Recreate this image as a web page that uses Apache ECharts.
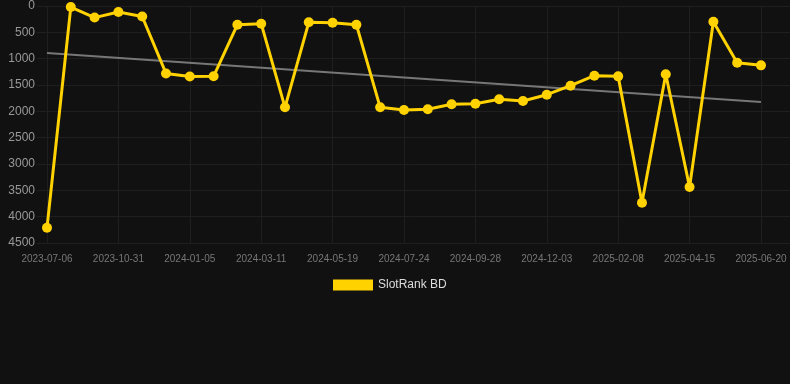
<!DOCTYPE html>
<html>
<head>
<meta charset="utf-8">
<style>
  html, body { margin: 0; padding: 0; background: #111111; }
  #chart { width: 790px; height: 384px; }
</style>
<script src="https://cdn.jsdelivr.net/npm/echarts@6/dist/echarts.min.js"></script>
</head>
<body>
<div id="chart"></div>
<script>
// dates of each rank snapshot (every 3rd one is labelled on the axis)
const dates = [
  "2023-07-06", "2023-08-14", "2023-09-22", "2023-10-31", "2023-11-22", "2023-12-14",
  "2024-01-05", "2024-01-27", "2024-02-18", "2024-03-11", "2024-04-03", "2024-04-26",
  "2024-05-19", "2024-06-10", "2024-07-02", "2024-07-24", "2024-08-15", "2024-09-06",
  "2024-09-28", "2024-10-20", "2024-11-11", "2024-12-03", "2024-12-25", "2025-01-17",
  "2025-02-08", "2025-03-02", "2025-03-24", "2025-04-15", "2025-05-07", "2025-05-29",
  "2025-06-20"
];
const rank = [
  4210, 20, 220, 115, 200, 1280, 1340, 1335, 355, 336, 1924,
  310, 317, 355, 1924, 1975, 1962, 1867, 1855, 1772, 1804,
  1684, 1513, 1323, 1336, 3735, 1297, 3437, 298, 1076, 1127
];
// trend line ends (first and last date)
const trendEnds = [892, 1823];
const labelIdx = [0, 3, 6, 9, 12, 15, 18, 21, 24, 27, 30];
const yTicks = { min: 0, max: 4500, step: 500 };

const last = dates.length - 1;
const font = "Arial, 'Liberation Sans', sans-serif";
const chart = echarts.init(document.getElementById("chart"));
chart.setOption({
  backgroundColor: "#111111",
  animation: false,
  grid: { left: 37, right: 0, top: 6, bottom: 141 },
  legend: {
    bottom: 88,
    left: 328,
    icon: "rect",
    itemWidth: 40,
    itemHeight: 11,
    textStyle: { color: "#dddddd", fontSize: 12, fontFamily: font },
    data: ["SlotRank BD"]
  },
  xAxis: {
    type: "value",
    // the plot leaves a little room before the first and after the last snapshot
    min: -0.42,
    max: 31.22,
    axisLine: { show: false },
    axisTick: { show: false, customValues: labelIdx },
    axisLabel: {
      customValues: labelIdx,
      formatter: (v) => dates[Math.round(v)] || "",
      color: "#777777",
      fontSize: 10,
      margin: 11,
      fontFamily: font
    },
    splitLine: { show: true, lineStyle: { color: "#1f1f1f", width: 1 } }
  },
  yAxis: {
    type: "value",
    inverse: true,
    min: yTicks.min,
    max: yTicks.max,
    interval: yTicks.step,
    axisLine: { show: false },
    axisTick: { show: false },
    axisLabel: {
      formatter: (v) => String(v),
      color: "#999999",
      fontSize: 12,
      margin: 2,
      fontFamily: font
    },
    splitLine: { lineStyle: { color: "#1f1f1f", width: 1 } }
  },
  series: [
    {
      name: "trend",
      type: "line",
      data: [[0, trendEnds[0]], [last, trendEnds[1]]],
      symbol: "none",
      silent: true,
      lineStyle: { color: "#777777", width: 2 },
      z: 1
    },
    {
      name: "SlotRank BD",
      type: "line",
      data: rank.map((v, i) => [i, v]),
      symbol: "circle",
      symbolSize: 10,
      itemStyle: { color: "#FFD200" },
      lineStyle: { color: "#FFD200", width: 3 },
      z: 2
    }
  ]
});
</script>
</body>
</html>
